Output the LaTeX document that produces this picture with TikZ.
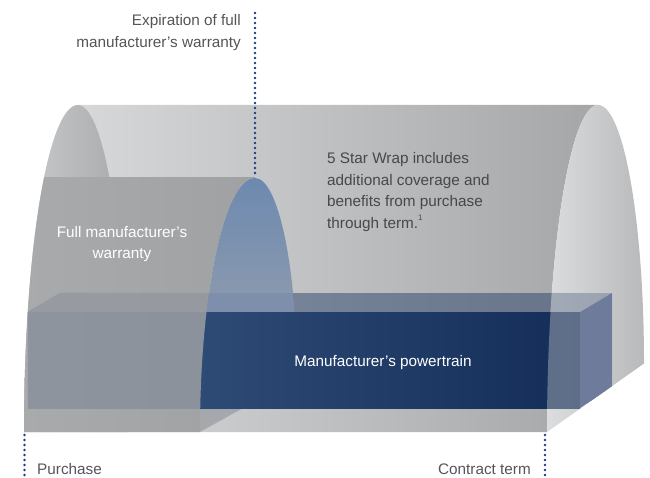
\documentclass[tikz,border=0pt]{standalone}
\usepackage{fontspec}
\setmainfont{Liberation Sans}
\definecolor{bodyL}{HTML}{DCDDDF}
\definecolor{bodyR}{HTML}{A5A6A8}
\definecolor{lendL}{HTML}{C8C9CB}
\definecolor{lendR}{HTML}{A8A9AB}
\definecolor{rendL}{HTML}{DCDDDF}
\definecolor{rendR}{HTML}{B8B9BB}
\definecolor{rendM}{HTML}{D0D1D3}
\definecolor{innerL}{HTML}{A9AAAC}
\definecolor{innerR}{HTML}{A0A1A3}
\definecolor{innerM}{HTML}{A3A4A6}
\definecolor{archT}{HTML}{6D89B0}
\definecolor{archB}{HTML}{A9AAAC}
\definecolor{archM}{HTML}{8898B5}
\definecolor{navy}{HTML}{1E3764}
\definecolor{frontL}{HTML}{3A5882}
\definecolor{frontR}{HTML}{132D58}
\definecolor{sideC}{HTML}{2D4374}
\definecolor{dotC}{HTML}{1B3D7E}
\definecolor{labelgray}{HTML}{555557}
\definecolor{darklabel}{HTML}{47484A}
\begin{document}
\begin{tikzpicture}[x=1pt,y=-1pt,
  lbl/.style={font=\fontsize{15.3}{18}\selectfont, text=labelgray, inner sep=0pt},
  wlbl/.style={font=\fontsize{15.3}{18}\selectfont, text=white, inner sep=0pt},
  dlbl/.style={font=\fontsize{15.3}{18}\selectfont, text=darklabel, inner sep=0pt},
  dotline/.style={draw=dotC, line width=2.9pt, line cap=round, dash pattern=on 0pt off 5pt}]
\useasboundingbox (0,0) rectangle (650,478);
% big tunnel body
\shade[left color=bodyL, right color=bodyR]
  (24,432) .. controls (24,251.4) and (48.2,105) .. (78,105) -- (598,105)
  .. controls (569.8,105) and (547,251.4) .. (547,432) -- cycle;
% left end piece
\shade[left color=lendL, right color=lendR]
  (24,432) .. controls (24,251.4) and (48.2,105) .. (78,105)
  .. controls (105.6,105) and (128,251.4) .. (128,432) -- cycle;
% right end face (opaque)
\shade[left color=rendL, right color=rendR]
  (547,432) .. controls (547,251.4) and (569.8,105) .. (598,105)
  .. controls (623.4,105) and (644,220.5) .. (644,363.5) -- cycle;
% blue arch end face of inner tunnel
\shade[top color=archT, bottom color=archB]
  (200,432) .. controls (200,291.7) and (224.6,178) .. (255,178)
  .. controls (278.2,178) and (297,267.5) .. (297,378) -- cycle;
% inner tunnel front
\begin{scope}
  \clip (0,178) rectangle (650,432);
  \shade[left color=innerL, right color=innerR]
    (24,432) .. controls (24,251.4) and (48.2,105) .. (78,105) -- (255,105) -- (255,178)
    .. controls (224.6,178) and (200,291.7) .. (200,432) -- cycle;
\end{scope}
% powertrain box
\fill[navy, fill opacity=0.46] (28,312) -- (60,293) -- (612,293) -- (580,312) -- cycle;
\begin{scope}
  \clip (28,312) -- (60,293) -- (612,293) -- (580,312) -- cycle;
  \fill[archM, fill opacity=0.8]
    (200,432) .. controls (200,291.7) and (224.6,178) .. (255,178)
    .. controls (278.2,178) and (297,267.5) .. (297,378) -- cycle;
\end{scope}
\shade[left color=frontL, right color=frontR] (28,312) rectangle (580,408);
\begin{scope}
  \clip (547,432) .. controls (547,251.4) and (569.8,105) .. (598,105)
    .. controls (623.4,105) and (644,220.5) .. (644,363.5) -- cycle;
  \fill[sideC] (580,312) -- (612,293) -- (612,387) -- (580,408) -- cycle;
\end{scope}
% translucent overlays on the box
\begin{scope}
  \clip (27,312.6) -- (59.6,292.2) -- (613,292.2) -- (613,387.5) -- (580.3,409.2) -- (27,409.2) -- cycle;
  \fill[innerM, fill opacity=0.8]
    (24,432) .. controls (24,251.4) and (48.2,105) .. (78,105) -- (255,105) -- (255,178)
    .. controls (224.6,178) and (200,291.7) .. (200,432) -- cycle;
  \fill[rendM, fill opacity=0.4]
    (547,432) .. controls (547,251.4) and (569.8,105) .. (598,105)
    .. controls (623.4,105) and (644,220.5) .. (644,363.5) -- cycle;
\end{scope}
% dotted markers
\coordinate (e1) at (255,13);
\coordinate (e2) at (255,176);
\coordinate (p1) at (24.5,435);
\coordinate (p2) at (24.5,478);
\coordinate (c1) at (545,435);
\coordinate (c2) at (545,478);
\draw[dotline] (e1) -- (e2);
\draw[dotline] (p1) -- (p2);
\draw[dotline] (c1) -- (c2);
% labels
\node[lbl, anchor=base east] (exp1) at (241,26) {Expiration of full};
\node[lbl, anchor=base east] (exp2) at (241,47.5) {manufacturer’s warranty};
\node[dlbl, anchor=base west] (s1) at (327,164) {5 Star Wrap includes};
\node[dlbl, anchor=base west] (s2) at (327,185.5) {additional coverage and};
\node[dlbl, anchor=base west] (s3) at (327,207) {benefits from purchase};
\node[dlbl, anchor=base west] (s4) at (327,228.5) {through term.\raisebox{0.5em}{\fontsize{8}{9}\selectfont 1}};
\node[wlbl, anchor=base] (f1) at (122,237) {Full manufacturer’s};
\node[wlbl, anchor=base] (f2) at (122,258.5) {warranty};
\node[wlbl, anchor=base] (pt) at (383,366) {Manufacturer’s powertrain};
\node[lbl, anchor=base west] (pu) at (37,474) {Purchase};
\node[lbl, anchor=base east] (ct) at (531,474) {Contract term};
\end{tikzpicture}
\end{document}
